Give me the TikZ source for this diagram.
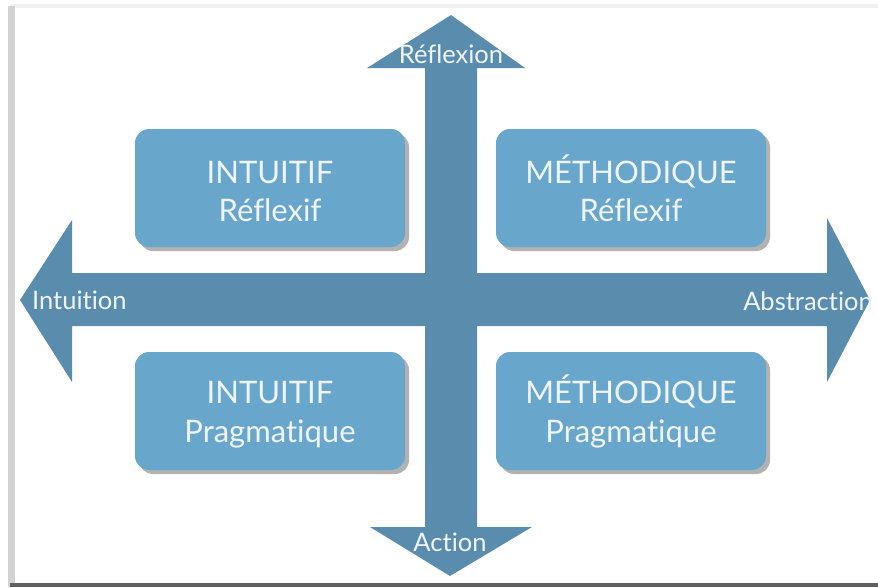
\documentclass[tikz,border=0pt]{standalone}
\usepackage{fontspec}
\setmainfont[Ligatures=NoCommon]{Lato}
\usetikzlibrary{shadows}
\definecolor{arrowblue}{HTML}{5A8DAD}
\definecolor{boxblue}{HTML}{69A6CC}
\definecolor{txt}{HTML}{EEF4F8}
\tikzset{
  quad/.style={fill=boxblue, rounded corners=14pt, minimum width=270pt, minimum height=118pt,
    inner sep=0pt,
    drop shadow={shadow xshift=4pt, shadow yshift=-4pt, fill=black, opacity=0.3}},
  quadtext/.style={text=txt, font=\fontsize{31}{36}\selectfont, inner sep=0pt, anchor=base},
  axislabel/.style={text=txt, font=\fontsize{25.5}{28}\selectfont, inner sep=0pt},
  axisarrow/.style={fill=arrowblue}
}
\begin{document}
\begin{tikzpicture}[x=1pt,y=-1pt]
\useasboundingbox (0,0) rectangle (878,587);
% frame
\fill[white] (0,0) rectangle (878,587);
\fill[gray!12] (10,4) rectangle (878,8);
\fill[gray!35] (8,6) rectangle (15,587);
\fill[gray!75!black] (10,583) rectangle (878,587);
\fill[white] (15,8) rectangle (878,583);
% vertical double arrow
\fill[axisarrow] (425,68) -- (367,68) -- (451,15) -- (525,68) -- (477,68)
  -- (477,527) -- (532,527) -- (450,576) -- (370,527) -- (425,527) -- cycle;
% horizontal double arrow
\fill[axisarrow] (72,273) -- (72,220) -- (20,300) -- (72,382) -- (72,326)
  -- (827,326) -- (827,382) -- (870,300) -- (827,218) -- (827,273) -- cycle;
% boxes
\node[quad] (tl) at (270,188) {};
\node[quad] (tr) at (631,188) {};
\node[quad] (bl) at (270,411) {};
\node[quad] (br) at (631,411) {};
\node[quadtext] (tl1) at (270,183) {INTUITIF};
\node[quadtext] (tl2) at (270,221) {Réflexif};
\node[quadtext] (tr1) at (631,183) {MÉTHODIQUE};
\node[quadtext] (tr2) at (631,221) {Réflexif};
\node[quadtext] (bl1) at (270,403) {INTUITIF};
\node[quadtext] (bl2) at (270,442) {Pragmatique};
\node[quadtext] (br1) at (631,403) {MÉTHODIQUE};
\node[quadtext] (br2) at (631,442) {Pragmatique};
% axis labels
\node[axislabel, anchor=base] (top) at (451,63) {Réflexion};
\node[axislabel, anchor=base] (bottom) at (450,551) {Action};
\node[axislabel, anchor=base west] (left) at (32,309) {Intuition};
\node[axislabel, anchor=base east] (right) at (873,310) {Abstraction};
\end{tikzpicture}
\end{document}
